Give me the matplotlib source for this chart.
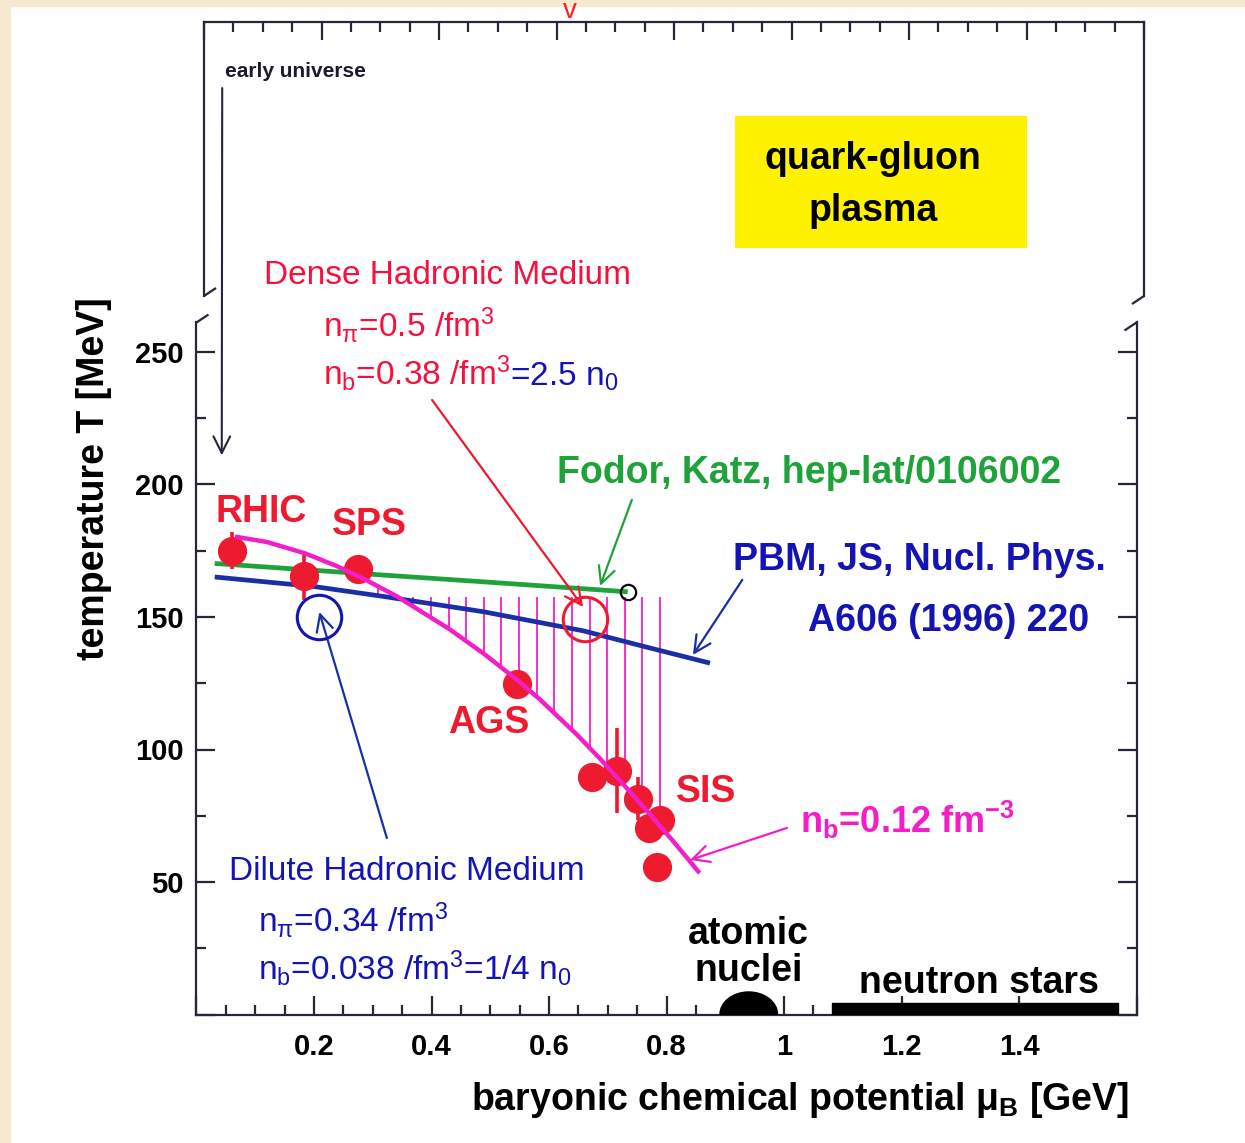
import matplotlib
matplotlib.use('Agg')
import matplotlib.pyplot as plt
import numpy as np
from matplotlib.patches import Rectangle, Ellipse
from matplotlib.ticker import MultipleLocator, FuncFormatter

plt.rcParams['font.family'] = ['Liberation Sans', 'DejaVu Sans']
plt.rcParams['mathtext.fontset'] = 'custom'
plt.rcParams['mathtext.rm'] = 'Liberation Sans'
plt.rcParams['mathtext.it'] = 'Liberation Sans'
plt.rcParams['mathtext.bf'] = 'Liberation Sans:bold'

# chemical freeze-out points (mu_B in GeV, T in MeV)
point_mu = [0.060, 0.183, 0.275, 0.546, 0.673, 0.715, 0.752, 0.770, 0.789, 0.784]
point_T = [175.0, 165.5, 168.0, 124.7, 89.5, 92.0, 81.5, 70.5, 73.5, 55.5]
point_err = [7.0, 9.0, 0.0, 0.0, 0.0, 16.0, 8.0, 0.0, 4.0, 0.0]

# n_b = 0.12 fm^-3 freeze-out curve
freeze_mu = [0.069, 0.12, 0.185, 0.239, 0.29, 0.341, 0.43, 0.49, 0.546, 0.585,
             0.648, 0.687, 0.726, 0.772, 0.811, 0.854]
freeze_T = [180.2, 178.3, 174.0, 169.2, 163.8, 157.8, 145.5, 136.0, 126.2, 118.8,
            105.5, 96.5, 87.0, 75.5, 65.5, 54.0]

# lattice phase boundary (Fodor, Katz) and its endpoint
lattice_mu = [0.031, 0.30, 0.50, 0.734]
lattice_T = [170.2, 166.1, 163.1, 159.5]

# PBM, JS phase boundary
pbm_mu = [0.031, 0.20, 0.317, 0.488, 0.658, 0.772, 0.874]
pbm_T = [165.1, 161.5, 157.8, 152.0, 144.8, 138.3, 132.6]

# marked states
dense_mu, dense_T = 0.661, 149.2
dilute_mu, dilute_T = 0.209, 150.0

# ground-state matter
nuclei_mu, nuclei_halfwidth, nuclei_height = 0.94, 0.049, 8.5
nstar_mu0, nstar_mu1, nstar_height = 1.082, 1.568, 4.3

RED = '#ee1a30'
RED_TXT = '#f5103e'
MAG = '#f41ec8'
GREEN = '#1ea23a'
BLUE = '#1a2ea8'
BLUE_TXT = '#1414b4'
INK = '#26263a'

W, H = 1245, 1143
fig = plt.figure(figsize=(W / 100, H / 100), dpi=100)
fig.patch.set_facecolor('white')
fig.add_artist(Rectangle((0, 1 - 6 / H), 1, 6 / H, transform=fig.transFigure,
                         color='#f7e9cf', zorder=0))
fig.add_artist(Rectangle((0, 0), 10 / W, 1, transform=fig.transFigure,
                         color='#f7e9cf', zorder=0))

ax = fig.add_axes([196.5 / W, (H - 1014.5) / H, 940 / W, 692 / H])
ax_top = fig.add_axes([204 / W, (H - 296) / H, 940 / W, 274 / H])
ax.patch.set_visible(False)
ax_top.patch.set_visible(False)

ax.set_xlim(0, 1.6)
ax.set_ylim(0, 692 / 2.65)
ax_top.set_xlim(0, 1.6)
ax_top.set_ylim(0, 1)

for a in (ax, ax_top):
    for s in a.spines.values():
        s.set_color(INK)
        s.set_linewidth(1.6)
ax.spines['top'].set_visible(False)
ax_top.spines['bottom'].set_visible(False)

ax.xaxis.set_major_locator(MultipleLocator(0.2))
ax.xaxis.set_minor_locator(MultipleLocator(0.05))
ax.yaxis.set_major_locator(MultipleLocator(50))
ax.yaxis.set_minor_locator(MultipleLocator(25))


def mu_fmt(v, pos):
    if v < 0.1 or v > 1.5:
        return ''
    if abs(v - 1) < 1e-6:
        return '1'
    return '%.1f' % v


ax.xaxis.set_major_formatter(FuncFormatter(mu_fmt))
ax.yaxis.set_major_formatter(FuncFormatter(lambda v, p: '' if v < 1 else '%d' % v))
ax.tick_params(which='both', direction='in', top=False, right=True, color=INK,
               width=1.6, labelsize=21)
ax.tick_params(which='major', length=14)
ax.tick_params(which='minor', length=7)
ax.tick_params(axis='x', pad=13)
ax.tick_params(axis='y', pad=9)
for lab in ax.get_xticklabels() + ax.get_yticklabels():
    lab.set_fontweight('bold')

ax_top.xaxis.set_major_locator(MultipleLocator(0.2))
ax_top.xaxis.set_minor_locator(MultipleLocator(0.05))
ax_top.tick_params(which='both', direction='in', top=True, bottom=False,
                   labelbottom=False, left=False, labelleft=False, color=INK, width=1.6)
ax_top.tick_params(which='major', length=13)
ax_top.tick_params(which='minor', length=7)

# axis break marks
bk = dict(color=INK, lw=1.6, clip_on=False, solid_capstyle='butt')
ax.plot([0, 12 / 940], [1, 1 + 8 / 692], transform=ax.transAxes, **bk)
ax.plot([1, 1 - 12 / 940], [1, 1 - 8 / 692], transform=ax.transAxes, **bk)
ax_top.plot([0, 12 / 940], [0, 8 / 274], transform=ax_top.transAxes, **bk)
ax_top.plot([1, 1 - 12 / 940], [0, -8 / 274], transform=ax_top.transAxes, **bk)

ax.set_xlabel(r'baryonic chemical potential μ$_\mathbf{B}$ [GeV]', fontsize=27,
              fontweight='bold', va='center')
ax.xaxis.set_label_coords(0.642, -0.124)
ax.set_ylabel('temperature T [MeV]', fontsize=27, fontweight='bold', va='center')
ax.yaxis.set_label_coords(-0.109, 0.775)

# hatched band between the phase boundary and the freeze-out curve
hatch_mu = np.arange(0.309, 0.80, 0.03)
hatch_top = np.minimum(np.interp(hatch_mu, lattice_mu, lattice_T), 157.5)
hatch_bot = np.interp(hatch_mu, freeze_mu, freeze_T)
ax.vlines(hatch_mu, hatch_bot, hatch_top, color=MAG, lw=1.3, zorder=2)

ax.plot(pbm_mu, pbm_T, color=BLUE, lw=3.4, zorder=3, solid_capstyle='butt')
ax.plot(lattice_mu, lattice_T, color=GREEN, lw=3.4, zorder=3, solid_capstyle='butt')
ax.plot(lattice_mu[-1], lattice_T[-1], 'o', ms=11, mfc='none', mec='black', mew=1.6, zorder=4)
ax.errorbar(point_mu, point_T, yerr=point_err, fmt='o', ms=20, color=RED, ecolor=RED,
            elinewidth=2.6, capsize=0, zorder=5)
ax.plot(freeze_mu, freeze_T, color=MAG, lw=3.2, zorder=6)

ax.plot(dense_mu, dense_T, 'o', ms=32, mfc='none', mec=RED, mew=2.2, zorder=7)
ax.plot(dilute_mu, dilute_T, 'o', ms=32, mfc='none', mec=BLUE_TXT, mew=2.2, zorder=7)

ax.add_patch(Ellipse((nuclei_mu, 0), 2 * nuclei_halfwidth, 2 * nuclei_height,
                     color='black', zorder=4))
ax.add_patch(Rectangle((nstar_mu0, 0), nstar_mu1 - nstar_mu0, nstar_height,
                       color='black', zorder=4))

ah = dict(arrowstyle='->,head_length=0.6,head_width=0.3', mutation_scale=20,
          lw=1.6, shrinkA=0, shrinkB=0)
ax.annotate('', xy=(dense_mu - 0.003, dense_T + 4.6), xytext=(0.401, 231.9),
            arrowprops=dict(ah, color=RED))
ax.annotate('', xy=(0.687, 161.7), xytext=(0.741, 194.2), arrowprops=dict(ah, color=GREEN))
ax.annotate('', xy=(0.845, 135.7), xytext=(0.929, 164.0), arrowprops=dict(ah, color=BLUE))
ax.annotate('', xy=(dilute_mu, dilute_T + 1.9), xytext=(0.324, 66.6),
            arrowprops=dict(ah, color=BLUE))
ax.annotate('', xy=(0.840, 58.3), xytext=(1.005, 70.4), arrowprops=dict(ah, color=MAG))
ax.annotate('', xy=(0.043, 211.0), xytext=(0.031, 0.759),
            textcoords=ax_top.get_xaxis_transform(),
            arrowprops=dict(ah, color=INK, lw=1.5))

ax_top.text(0.036, 0.818, 'early universe', fontsize=15, fontweight='bold',
            color='#1a1a2a', va='center', transform=ax_top.get_xaxis_transform())
ax_top.add_patch(Rectangle((0.904, 0.175), 0.497, 0.482, color='#fff200', lw=0,
                           transform=ax_top.get_xaxis_transform()))
ax_top.text(1.139, 0.405, 'quark-gluon\nplasma', fontsize=27, fontweight='bold',
            ha='center', va='center', linespacing=1.6,
            transform=ax_top.get_xaxis_transform())

ax.text(0.115, 279.0, 'Dense Hadronic Medium', fontsize=24, color=RED_TXT, va='center')
ax.text(0.215, 260.2, r'n$_\mathrm{π}$=0.5 /fm$^\mathrm{3}$', fontsize=24, color=RED_TXT,
        va='center')
t_nb = ax.text(0.215, 242.1, r'n$_\mathrm{b}$=0.38 /fm$^\mathrm{3}$', fontsize=24,
               color=RED_TXT, va='center')
ax.annotate(r'=2.5 n$_\mathrm{0}$', xy=(1, 0), xycoords=t_nb, fontsize=24,
            color=BLUE_TXT, va='bottom')

ax.text(0.613, 204.3, 'Fodor, Katz, hep-lat/0106002', fontsize=27, fontweight='bold',
        color=GREEN, va='center')
ax.text(0.913, 171.5, 'PBM, JS, Nucl. Phys.', fontsize=27, fontweight='bold',
        color=BLUE_TXT, va='center')
ax.text(1.041, 148.5, 'A606 (1996) 220', fontsize=27, fontweight='bold',
        color=BLUE_TXT, va='center')

for name, x, y in [('RHIC', 0.033, 189.6), ('SPS', 0.231, 184.7),
                   ('AGS', 0.428, 110.0), ('SIS', 0.816, 84.0)]:
    ax.text(x, y, name, fontsize=27, fontweight='bold', color=RED, va='center')

ax.text(1.027, 73.4, r'n$_\mathbf{b}$=0.12 fm$^\mathbf{-3}$', fontsize=26,
        fontweight='bold', color=MAG, va='center')

ax.text(0.055, 53.8, 'Dilute Hadronic Medium', fontsize=24, color=BLUE_TXT, va='center')
ax.text(0.105, 35.7, r'n$_\mathrm{π}$=0.34 /fm$^\mathrm{3}$', fontsize=24,
        color=BLUE_TXT, va='center')
ax.text(0.105, 17.5, r'n$_\mathrm{b}$=0.038 /fm$^\mathrm{3}$=1/4 n$_\mathrm{0}$',
        fontsize=24, color=BLUE_TXT, va='center')

ax.text(nuclei_mu, 23.5, 'atomic\nnuclei', fontsize=27, fontweight='bold',
        ha='center', va='center', linespacing=1.05)
ax.text(1.331, 11.9, 'neutron stars', fontsize=27, fontweight='bold',
        ha='center', va='center')

fig.text(570 / W, 1 + 2 / H, 'v', color='#ff2020', fontsize=20, ha='center', va='top')

fig.savefig('out.png', dpi=100)
